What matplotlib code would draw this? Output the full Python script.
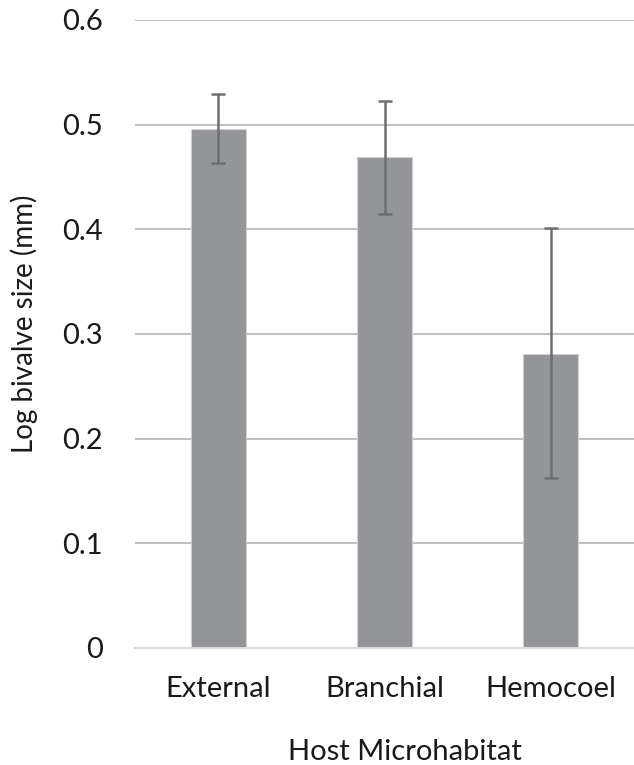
import matplotlib
matplotlib.use("Agg")
import matplotlib.pyplot as plt
import numpy as np

categories = ["External", "Branchial", "Hemocoel"]
values = [0.496, 0.469, 0.281]
err_upper = [0.529, 0.523, 0.401]
err_lower = [0.463, 0.415, 0.162]
yticks = [0, 0.1, 0.2, 0.3, 0.4, 0.5, 0.6]
ytick_labels = ["0", "0.1", "0.2", "0.3", "0.4", "0.5", "0.6"]

plt.rcParams['font.family'] = ['Lato', 'DejaVu Sans']

fig = plt.figure(figsize=(6.34, 7.65), dpi=100)
ax = fig.add_axes([135/634, 1-648/765, 1-135/634, (648-20)/765])

x = np.arange(len(categories))
vals = np.array(values)
yerr = np.array([vals - np.array(err_lower), np.array(err_upper) - vals])

ax.bar(x, vals, width=0.33, color="#939598", edgecolor="#d0d0d2", linewidth=0.8, zorder=2)
ax.errorbar(x, vals, yerr=yerr, fmt="none", ecolor="#6d6e71", elinewidth=1.8,
            capsize=5, capthick=1.8, zorder=3)

ax.set_xlim(-0.5, 2.5)
ax.set_ylim(0, 0.6)
ax.set_yticks(yticks)
ax.set_yticklabels(ytick_labels)
ax.set_xticks(x)
ax.set_xticklabels(categories)
ax.yaxis.grid(True, color="#b3b3b3", linewidth=1.2, zorder=0)
ax.set_axisbelow(True)
for s in ["top", "right", "left"]:
    ax.spines[s].set_visible(False)
ax.spines["bottom"].set_color("#d9d9d9")
ax.spines["bottom"].set_linewidth(1.5)
ax.tick_params(axis="both", length=0, labelsize=21, colors="#1a1a1a")
ax.tick_params(axis="y", pad=23)
ax.tick_params(axis="x", pad=20)

ax.set_xlabel("Host Microhabitat", fontsize=21, color="#1a1a1a")
ax.set_ylabel("Log bivalve size (mm)", fontsize=20, color="#1a1a1a")
ax.xaxis.set_label_coords((405-135)/499, -(760-648)/628, transform=None)
ax.xaxis.label.set_va("baseline")
ax.yaxis.set_label_coords(24/634 * 634/499 * 0 + (24-135)/499, (648-324)/628)
ax.yaxis.label.set_va("center")

fig.savefig("out.png", dpi=100)
